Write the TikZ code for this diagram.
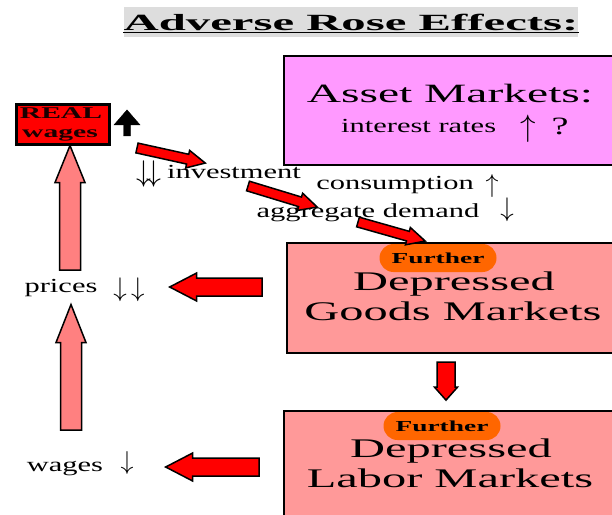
\documentclass[tikz,border=0pt]{standalone}
\usepackage{fix-cm}
\usepackage{fontspec}
\usepackage{tikz}
\usetikzlibrary{calc, positioning}
\setmainfont{Liberation Serif}
\newfontfamily\labelfont[FakeStretch=1.53]{Liberation Serif}
\newfontfamily\bigfont[FakeStretch=1.8]{Liberation Serif}
\newfontfamily\titlefont[FakeStretch=2.1]{Liberation Serif}
\definecolor{assetpink}{HTML}{FF99FF}
\definecolor{marketpink}{HTML}{FF9999}
\definecolor{furtherorange}{HTML}{FF6600}
\definecolor{liftpink}{HTML}{FF8080}
\definecolor{titlegray}{HTML}{DDDDDD}
\definecolor{realdark}{HTML}{1A0000}
% fat arrow from #2 to #3: shaft half width #4, head half width #5, head length #6
\newcommand*{\blockarrow}[6]{%
 \path let \p1=($#3-#2$) in \pgfextra{\pgfmathsetmacro\blockang{atan2(\y1,\x1)}\pgfmathsetmacro\blocklen{veclen(\x1,\y1)}\xdef\blockang{\blockang}\xdef\blocklen{\blocklen}};
 \draw[#1, shift={#2}, rotate=\blockang] (0,-#4) -- (\blocklen-#6,-#4) -- (\blocklen-#6,-#5) -- (\blocklen,0) -- (\blocklen-#6,#5) -- (\blocklen-#6,#4) -- (0,#4) -- cycle;}

\begin{document}
\begin{tikzpicture}[x=1bp, y=-1bp,
 marketbox/.style={draw, line width=2bp, fill=marketpink, anchor=north west, minimum width=331bp, minimum height=110bp, inner sep=0},
 redarrow/.style={draw, line width=1.5bp, fill=red},
 liftarrow/.style={draw, line width=1.5bp, fill=liftpink},
 further/.style={rectangle, rounded corners=14bp, fill=furtherorange, minimum width=117bp, minimum height=28bp, inner sep=0, font=\bigfont\bfseries\fontsize{15.3}{16}\selectfont},
 lbl/.style={anchor=base, inner sep=0, font=\labelfont\fontsize{20}{22}\selectfont},
 bigtxt/.style={anchor=base, inner sep=0, font=\bigfont\fontsize{27}{30}\selectfont},
 realtxt/.style={anchor=base, inner sep=0, text=realdark, font=\bigfont\bfseries\fontsize{16.5}{16}\selectfont},
 arr/.style={inner sep=0, font=\fontsize{27}{27}\selectfont}]
 \useasboundingbox (0,0) rectangle (612,515);
 \clip (0,0) rectangle (612,515);

 % title
 \node[fill=titlegray, minimum width=452bp, minimum height=30bp, inner sep=0, font=\titlefont\bfseries\fontsize{23.3}{24}\selectfont] (title) at (351,22) {Adverse Rose Effects:};
 \draw[line width=1.5bp] ([yshift=-2.5bp]title.base west) -- ([yshift=-2.5bp]title.base east);

 % asset markets
 \node[draw, line width=2bp, fill=assetpink, anchor=north west, minimum width=331bp, minimum height=109bp, inner sep=0] (asset) at (283,55) {};
 \node[bigtxt, font=\bigfont\fontsize{26.5}{30}\selectfont] (assettitle) at (450,103) {Asset Markets:};
 \node[lbl, anchor=base west] (rates) at (341,133) {interest rates};
 \node[arr, font=\fontsize{31}{31}\selectfont] (ratesup) at (528,129) {$\uparrow$};
 \node[lbl, font=\labelfont\fontsize{25}{25}\selectfont] (ratesq) at (560,135) {?};

 % goods and labor markets
 \node[marketbox] (goods) at (286,242) {};
 \node[further] (furthergoods) at (438,258) {Further};
 \node[bigtxt] (goodsdep) at (454,290) {Depressed};
 \node[bigtxt] (goodsmk) at (453,320) {Goods Markets};
 \node[marketbox] (labor) at (283,410) {};
 \node[further] (furtherlabor) at (442,426) {Further};
 \node[bigtxt] (labordep) at (451,457) {Depressed};
 \node[bigtxt] (labormk) at (450,487) {Labor Markets};

 % real wages
 \node[draw, line width=3bp, fill=red, anchor=north west, minimum width=93bp, minimum height=40bp, inner sep=0] (realbox) at (15,103) {};
 \node[realtxt] (real) at (61,119) {REAL};
 \node[realtxt] (realwages) at (60,138) {wages};
 \blockarrow{fill=black}{(127,136)}{(127,110)}{3.5}{13}{15}

 % demand chain
 \node[arr, font=\fontsize{30}{30}\selectfont] (invdown) at (149,174) {$\downarrow\!\downarrow$};
 \node[lbl] (invest) at (234,179) {investment};
 \node[lbl] (consum) at (395,190) {consumption};
 \node[arr, font=\fontsize{26}{26}\selectfont] (conup) at (492,186) {$\uparrow$};
 \node[lbl] (aggdem) at (368,218) {aggregate demand};
 \node[arr] (aggdown) at (507,210) {$\downarrow$};
 \blockarrow{redarrow}{(137,148)}{(205,163)}{5}{9}{18}
 \blockarrow{redarrow}{(248,186)}{(317,207)}{5}{9}{18}
 \blockarrow{redarrow}{(358,222)}{(425,241)}{5}{9}{18}

 % prices and wages
 \node[lbl] (prices) at (61,292) {prices};
 \node[arr] (pricesdown) at (129,290) {$\downarrow\,\downarrow$};
 \node[lbl] (wages) at (65,471) {wages};
 \node[arr, font=\fontsize{26}{26}\selectfont] (wagesdown) at (127,463) {$\downarrow$};
 \blockarrow{redarrow}{(262,287)}{(170,287)}{9}{14}{27}
 \blockarrow{redarrow}{(259,467)}{(166,467)}{9}{14}{27}
 \blockarrow{redarrow}{(446,362)}{(446,400)}{9}{11.5}{13}
 \blockarrow{liftarrow}{(70,270)}{(70,146)}{10.5}{15}{37}
 \blockarrow{liftarrow}{(71,430)}{(71,305)}{10.5}{15}{38}
\end{tikzpicture}
\end{document}
